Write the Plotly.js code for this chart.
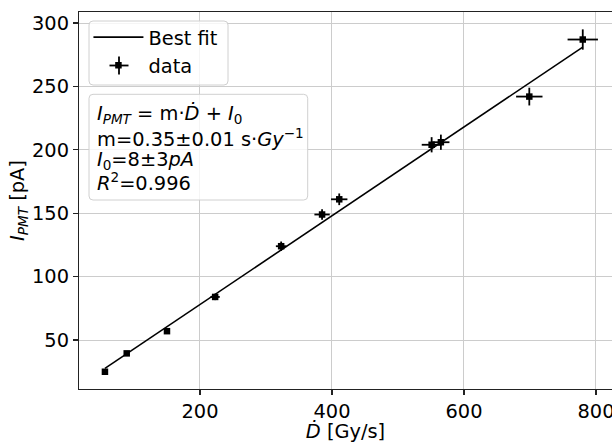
<!DOCTYPE html>
<html>
<head>
<meta charset="utf-8">
<script src="https://cdn.plot.ly/plotly-3.0.1.min.js"></script>
<style>
html, body { margin: 0; padding: 0; background: #ffffff; }
#chart { width: 612px; height: 443px; }
</style>
</head>
<body>
<div id="chart"></div>
<script>
// ---- data ----
const doseRate   = [56, 89, 150, 223, 323, 385, 411, 551, 565, 699, 780];   // Gy/s
const doseErr    = [2, 3, 4.5, 7, 8, 11.6, 12.4, 15, 13, 20, 23];
const current    = [25, 39.5, 57, 84, 124, 149, 161, 204, 206, 242, 287];   // pA
const currentErr = [1, 1.5, 2, 2.5, 3.7, 4.2, 4.6, 6, 6, 7, 8];
const fitX = [56, 780];
const fitY = [27.6, 281];
const xTicks = [200, 400, 600, 800];
const yTicks = [50, 100, 150, 200, 250, 300];
const fitLines = [
  "<i>I</i><sub><i>PMT</i></sub> = m·<i>Ḋ</i> + <i>I</i><sub>0</sub>",
  "m=0.35±0.01 s·<i>Gy</i><sup>−1</sup>",
  "<i>I</i><sub>0</sub>=8±3<i>pA</i>",
  "<i>R</i><sup>2</sup>=0.996"
];

const FONT = "DejaVu Sans, sans-serif";
const FS = 19.4;

const traces = [
  {
    x: fitX, y: fitY, type: "scatter", mode: "lines", name: "Best fit",
    line: { color: "#000000", width: 1.6 }
  },
  {
    x: doseRate, y: current, type: "scatter", mode: "markers", name: "data",
    marker: { symbol: "square", size: 6.5, color: "#000000" },
    error_x: { type: "data", array: doseErr, visible: true, color: "#000000", thickness: 1.8, width: 0 },
    error_y: { type: "data", array: currentErr, visible: true, color: "#000000", thickness: 1.8, width: 0 }
  }
];

function roundedRect(x0, y0, x1, y1, r) {
  // pixel coords relative to top-left of plot area; y positive upward
  return `M${x0 + r},${y0} L${x1 - r},${y0} Q${x1},${y0} ${x1},${y0 - r} ` +
         `L${x1},${y1 + r} Q${x1},${y1} ${x1 - r},${y1} L${x0 + r},${y1} ` +
         `Q${x0},${y1} ${x0},${y1 + r} L${x0},${y0 - r} Q${x0},${y0} ${x0 + r},${y0} Z`;
}

const pixelShape = {
  xref: "paper", yref: "paper",
  xsizemode: "pixel", ysizemode: "pixel", xanchor: 0, yanchor: 1, layer: "above"
};
const boxStyle = Object.assign({}, pixelShape, {
  type: "path",
  fillcolor: "rgba(255,255,255,0.8)",
  line: { color: "#d0d0d0", width: 1 }
});

const shapes = [
  Object.assign({}, boxStyle, { path: roundedRect(10, -9, 149, -73, 4) }),
  Object.assign({}, boxStyle, { path: roundedRect(10, -82.3, 228.7, -188, 4) }),
  // error-bar cross of the legend glyph for "data"
  Object.assign({}, pixelShape, { type: "line", x0: 30.5, x1: 49.5, y0: -53.5, y1: -53.5, line: { color: "#000000", width: 1.8 } }),
  Object.assign({}, pixelShape, { type: "line", x0: 40, x1: 40, y0: -44.5, y1: -62.5, line: { color: "#000000", width: 1.8 } })
];

const lineCenters = [102.5, 125.5, 148, 170];
const annotations = fitLines.map((t, i) => ({
  text: t, xref: "paper", yref: "paper", x: 0, y: 1,
  xanchor: "left", yanchor: "middle", xshift: 15.7, yshift: -lineCenters[i],
  showarrow: false, align: "left",
  font: { family: FONT, size: FS, color: "#000000" }
}));

const layout = {
  width: 612, height: 443,
  margin: { l: 79, r: 0, t: 12, b: 54, pad: 0 },
  paper_bgcolor: "#ffffff", plot_bgcolor: "#ffffff",
  font: { family: FONT, size: FS, color: "#000000" },
  showlegend: true,
  legend: {
    x: 0.0177, y: 0.984, xanchor: "left", yanchor: "top",
    bgcolor: "rgba(0,0,0,0)", borderwidth: 0, itemwidth: 50,
    font: { family: FONT, size: FS, color: "#000000" }
  },
  xaxis: {
    range: [16.7, 824.3], tickmode: "array", tickvals: xTicks,
    showgrid: true, gridcolor: "#cccccc", gridwidth: 1, zeroline: false,
    showline: true, linecolor: "#222222", linewidth: 1.1, mirror: true,
    ticks: "outside", ticklen: 5, tickcolor: "#222222", tickwidth: 1.1,
    ticklabeloverflow: "allow",
    tickfont: { family: FONT, size: FS, color: "#000000" },
    title: { text: "<i>Ḋ</i> [Gy/s]", standoff: 6, font: { family: FONT, size: FS, color: "#000000" } }
  },
  yaxis: {
    range: [11.4, 308.7], tickmode: "array", tickvals: yTicks,
    showgrid: true, gridcolor: "#cccccc", gridwidth: 1, zeroline: false,
    showline: true, linecolor: "#222222", linewidth: 1.1, mirror: false,
    ticks: "outside", ticklen: 5, tickcolor: "#222222", tickwidth: 1.1,
    tickfont: { family: FONT, size: FS, color: "#000000" },
    title: { text: "<i>I</i><sub><i>PMT</i></sub> [pA]", standoff: 2, font: { family: FONT, size: FS, color: "#000000" } }
  },
  shapes: shapes,
  annotations: annotations
};

Plotly.newPlot("chart", traces, layout, { staticPlot: true, displayModeBar: false });
</script>
</body>
</html>
